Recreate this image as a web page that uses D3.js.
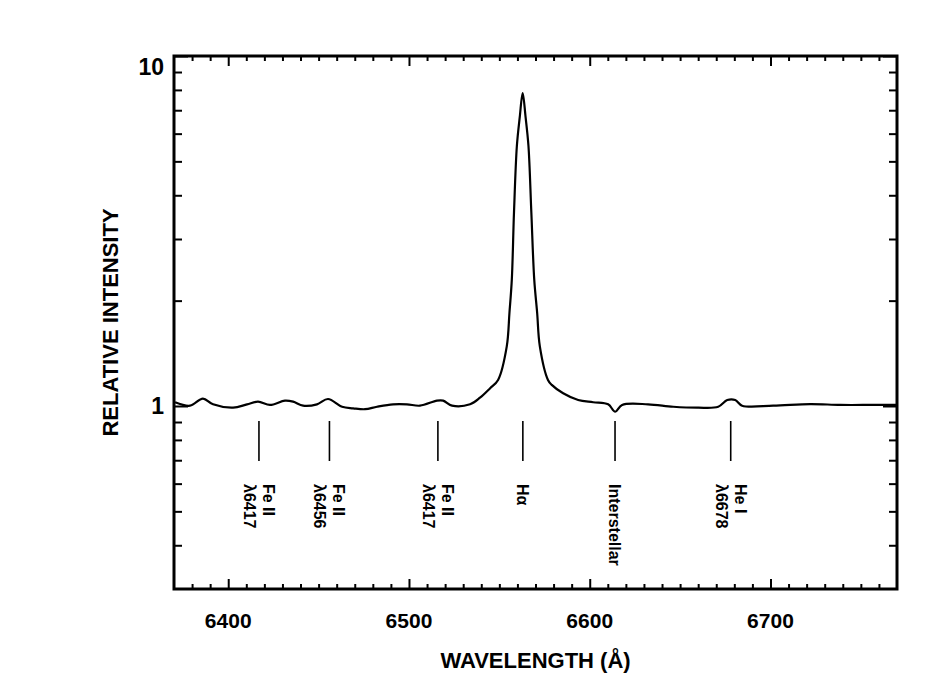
<!DOCTYPE html>
<html>
<head>
<meta charset="utf-8">
<script src="https://cdn.jsdelivr.net/npm/d3@7"></script>
<style>
  body { margin: 0; background: #fff; }
  text { font-family: "Liberation Sans", Arial, sans-serif; font-weight: bold; fill: #000; }
</style>
</head>
<body>
<div id="chart"></div>
<script>
// spectrum (wavelength in A, relative intensity)
var wavelength = [6370.6, 6378.9, 6386.0, 6391.6, 6402.7, 6410.4, 6416.5, 6423.1, 6431.4, 6435.9,
                  6441.4, 6449.1, 6455.2, 6463.0, 6469.1, 6475.7, 6482.3, 6491.2, 6498.9, 6506.1,
                  6515.5, 6518.9, 6523.8, 6533.8, 6539.3, 6544.9, 6549.3, 6554.1, 6555.6, 6556.9,
                  6558.1, 6559.7, 6561.3, 6562.9, 6564.5, 6566.1, 6567.7, 6569.3, 6570.9, 6572.4,
                  6576.9, 6579.0, 6585.3, 6593.6, 6601.9, 6610.2, 6614.1, 6617.9, 6632.3, 6646.2,
                  6660.0, 6671.1, 6676.1, 6680.5, 6684.3, 6701.5, 6722.0, 6738.6, 6756.8, 6770.0];
var intensity  = [1.025, 1.002, 1.050, 1.011, 0.989, 1.011, 1.029, 1.007, 1.036, 1.029,
                  1.002, 1.011, 1.047, 0.995, 0.985, 0.979, 0.995, 1.011, 1.011, 1.002,
                  1.036, 1.036, 1.002, 1.011, 1.056, 1.124, 1.187, 1.48, 1.85, 2.30,
                  3.57, 5.54, 6.7, 7.84, 6.7, 5.54, 3.57, 2.30, 1.85, 1.48,
                  1.187, 1.149, 1.087, 1.040, 1.025, 1.011, 0.963, 1.007, 1.011, 0.995,
                  0.989, 0.995, 1.040, 1.040, 1.002, 1.002, 1.013, 1.007, 1.007, 1.007];

var xTickLabels = [6400, 6500, 6600, 6700];
var yTickLabels = [1, 10];

// identified lines
var lineWave = [6417, 6456, 6516, 6563, 6614, 6678];
var lineName = ["Fe II", "Fe II", "Fe II", "H\u03b1", "Interstellar", "He I"];
var lineId   = ["\u03bb6417", "\u03bb6456", "\u03bb6417", "", "", "\u03bb6678"];

var width = 950, height = 700;
var pLeft = 174, pRight = 897, pTop = 56, pBottom = 589;

var svg = d3.select("#chart").append("svg")
            .attr("width", width)
            .attr("height", height);

var x = d3.scaleLinear().domain([6370, 6770]).range([pLeft, pRight]);
var y = d3.scaleLog().domain([0.3, 10]).range([pBottom, pTop]);

var minorX = d3.range(6380, 6770, 10).filter(function(d) { return xTickLabels.indexOf(d) < 0; });
var minorY = [0.4, 0.5, 0.6, 0.7, 0.8, 0.9, 2, 3, 4, 5, 6, 7, 8, 9];

function ticks(axis, tr) {
    var g = svg.append("g").attr("transform", tr).call(axis);
    g.select(".domain").remove();
    g.selectAll("line").attr("stroke", "#000").attr("stroke-width", 2);
    g.selectAll("text").remove();
    return g;
}

// inward ticks on all four sides
ticks(d3.axisBottom(x).tickValues(xTickLabels).tickSize(-10), "translate(0," + pBottom + ")");
ticks(d3.axisBottom(x).tickValues(minorX).tickSize(-5), "translate(0," + pBottom + ")");
ticks(d3.axisTop(x).tickValues(xTickLabels).tickSize(-10), "translate(0," + pTop + ")");
ticks(d3.axisTop(x).tickValues(minorX).tickSize(-5), "translate(0," + pTop + ")");
ticks(d3.axisLeft(y).tickValues(yTickLabels).tickSize(-14), "translate(" + pLeft + ",0)");
ticks(d3.axisLeft(y).tickValues(minorY).tickSize(-8), "translate(" + pLeft + ",0)");
ticks(d3.axisRight(y).tickValues(yTickLabels).tickSize(-14), "translate(" + pRight + ",0)");
ticks(d3.axisRight(y).tickValues(minorY).tickSize(-8), "translate(" + pRight + ",0)");

svg.append("rect")
   .attr("x", pLeft).attr("y", pTop)
   .attr("width", pRight - pLeft).attr("height", pBottom - pTop)
   .attr("fill", "none").attr("stroke", "#000").attr("stroke-width", 3);

// tick labels
svg.selectAll(".xlab")
   .data(xTickLabels)
 .enter().append("text")
   .attr("class", "xlab")
   .attr("x", function(d) { return x(d); })
   .attr("y", 628)
   .attr("text-anchor", "middle")
   .style("font-size", "21px")
   .text(function(d) { return d; });

svg.selectAll(".ylab")
   .data(yTickLabels)
 .enter().append("text")
   .attr("class", "ylab")
   .attr("x", 164)
   .attr("y", function(d) { return Math.max(y(d) + 8, pTop + 19); })
   .attr("text-anchor", "end")
   .style("font-size", "23px")
   .text(function(d) { return d; });

// axis titles
svg.append("text")
   .attr("x", (pLeft + pRight) / 2)
   .attr("y", 668)
   .attr("text-anchor", "middle")
   .style("font-size", "22px")
   .text("WAVELENGTH (\u00c5)");

svg.append("text")
   .attr("transform", "translate(118," + (pTop + pBottom) / 2 + ") rotate(-90)")
   .attr("text-anchor", "middle")
   .style("font-size", "22px")
   .text("RELATIVE INTENSITY");

// spectrum
var pts = wavelength.map(function(w, i) { return [w, intensity[i]]; });
var line = d3.line()
             .x(function(d) { return x(d[0]); })
             .y(function(d) { return y(d[1]); })
             .curve(d3.curveCatmullRom.alpha(0.5));

svg.append("path")
   .datum(pts)
   .attr("d", line)
   .attr("fill", "none")
   .attr("stroke", "#000")
   .attr("stroke-width", 2.2)
   .attr("stroke-linejoin", "round");

// line markers and rotated labels
var marks = svg.selectAll(".mark")
               .data(lineWave)
             .enter().append("g")
               .attr("class", "mark");

marks.append("line")
     .attr("x1", function(d) { return x(d); })
     .attr("x2", function(d) { return x(d); })
     .attr("y1", 421)
     .attr("y2", 461)
     .attr("stroke", "#000")
     .attr("stroke-width", 1.6);

var lab = marks.append("g")
     .attr("transform", function(d) { return "translate(" + x(d) + ",484) rotate(90)"; })
     .style("font-size", "16px");

lab.append("text")
   .attr("y", function(d, i) { return lineId[i] ? -4 : 6; })
   .text(function(d, i) { return lineName[i]; });

lab.append("text")
   .attr("y", 15)
   .text(function(d, i) { return lineId[i]; });
</script>
</body>
</html>
